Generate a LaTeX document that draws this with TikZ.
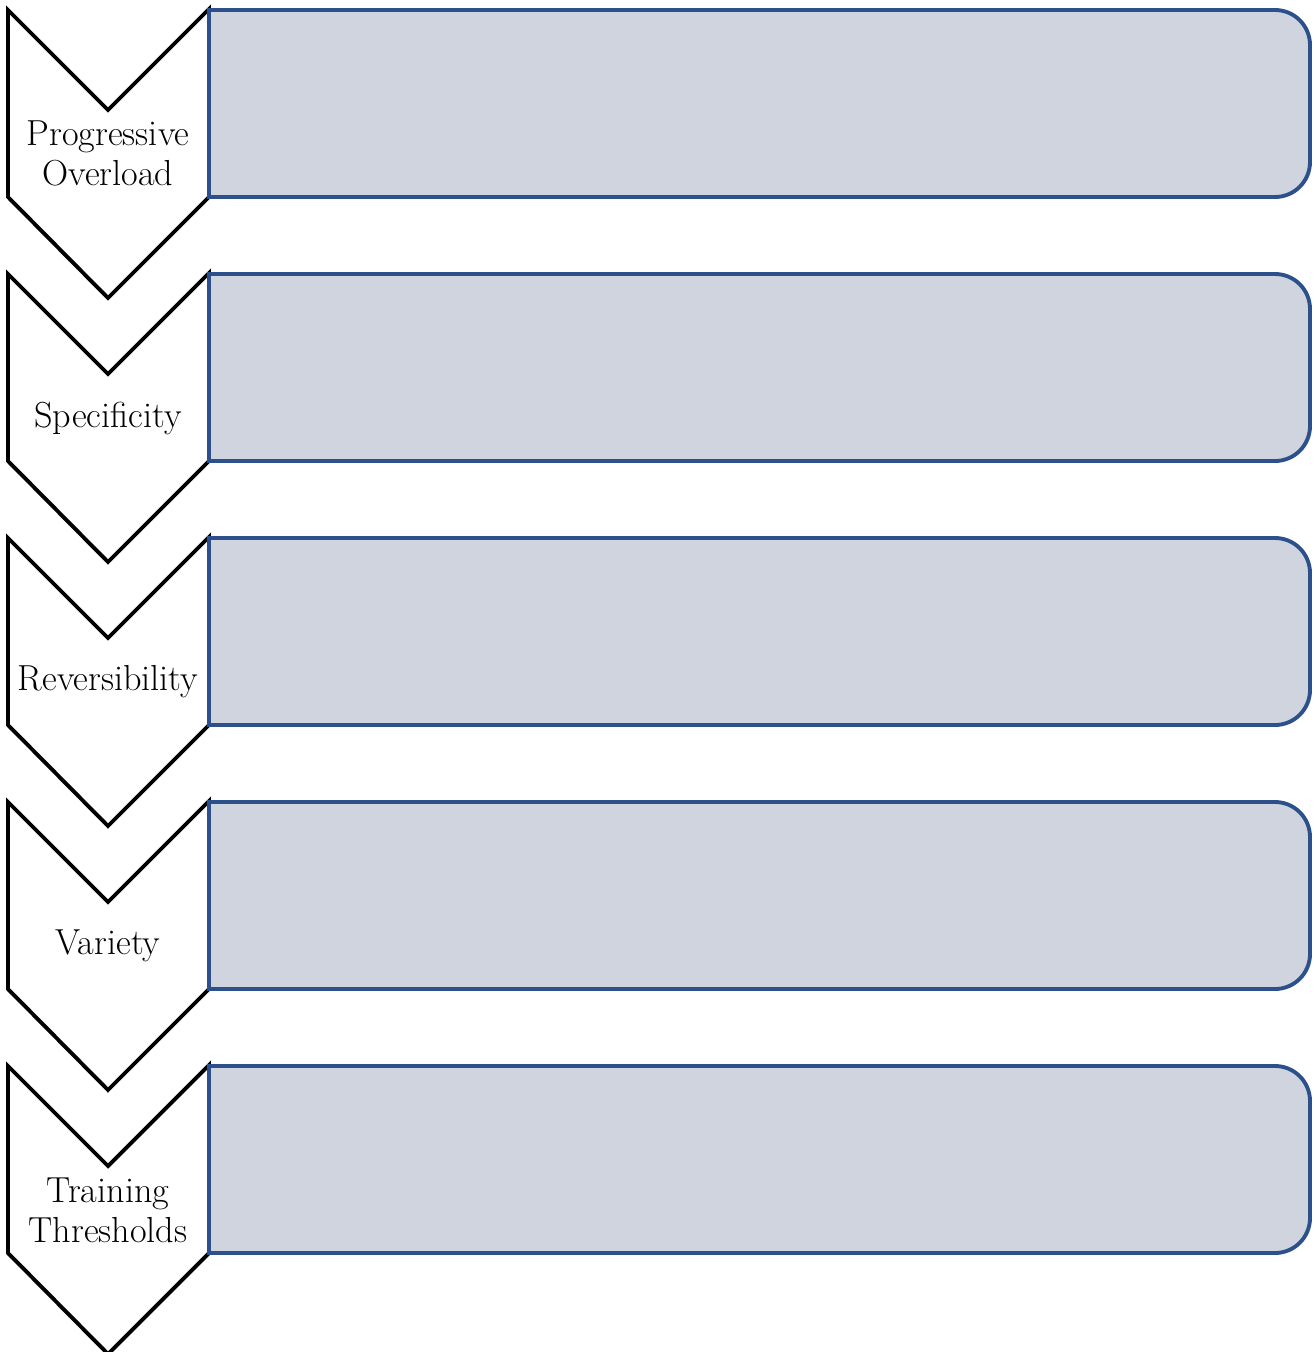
\documentclass[tikz,border=0pt]{standalone}
\definecolor{boxfill}{RGB}{208,212,222}
\definecolor{boxline}{RGB}{44,80,140}
\tikzset{
  chevron/.style={draw=black,fill=white,line width=2.2pt,line join=miter},
  stepbox/.style={draw=boxline,fill=boxfill,line width=2.2pt},
  steplabel/.style={align=center,font=\fontsize{20.6}{22.7}\selectfont,inner sep=0pt}
}

\begin{document}
\begin{tikzpicture}[x=0.02cm,y=-0.02cm]
 \useasboundingbox (0,0) rectangle (1314,1352);

 % chevrons
 \draw[chevron] (8,10) -- (108,110) -- (209,9) -- (209,197) -- (108,298) -- (8,197) -- cycle;
 \draw[chevron] (8,274) -- (108,374) -- (209,273) -- (209,461) -- (108,562) -- (8,461) -- cycle;
 \draw[chevron] (8,538) -- (108,638) -- (209,537) -- (209,725) -- (108,826) -- (8,725) -- cycle;
 \draw[chevron] (8,802) -- (108,902) -- (209,801) -- (209,989) -- (108,1090) -- (8,989) -- cycle;
 \draw[chevron] (8,1066) -- (108,1166) -- (209,1065) -- (209,1253) -- (108,1354) -- (8,1253) -- cycle;

 % boxes
 \draw[stepbox] (209,10) -- (800,10) [rounded corners=0.7cm] -- (1310,10) -- (1310,197) -- (800,197) [sharp corners] -- (209,197) -- cycle;
 \draw[stepbox] (209,274) -- (800,274) [rounded corners=0.7cm] -- (1310,274) -- (1310,461) -- (800,461) [sharp corners] -- (209,461) -- cycle;
 \draw[stepbox] (209,538) -- (800,538) [rounded corners=0.7cm] -- (1310,538) -- (1310,725) -- (800,725) [sharp corners] -- (209,725) -- cycle;
 \draw[stepbox] (209,802) -- (800,802) [rounded corners=0.7cm] -- (1310,802) -- (1310,989) -- (800,989) [sharp corners] -- (209,989) -- cycle;
 \draw[stepbox] (209,1066) -- (800,1066) [rounded corners=0.7cm] -- (1310,1066) -- (1310,1253) -- (800,1253) [sharp corners] -- (209,1253) -- cycle;

 % labels
 \node[steplabel] (overload) at (108,153) {Progressive\\Overload};
 \node[steplabel] (specificity) at (108,418) {Specificity};
 \node[steplabel] (reversibility) at (108,682) {Reversibility};
 \node[steplabel] (variety) at (108,946) {Variety};
 \node[steplabel] (thresholds) at (108,1210) {Training\\Thresholds};
\end{tikzpicture}
\end{document}
